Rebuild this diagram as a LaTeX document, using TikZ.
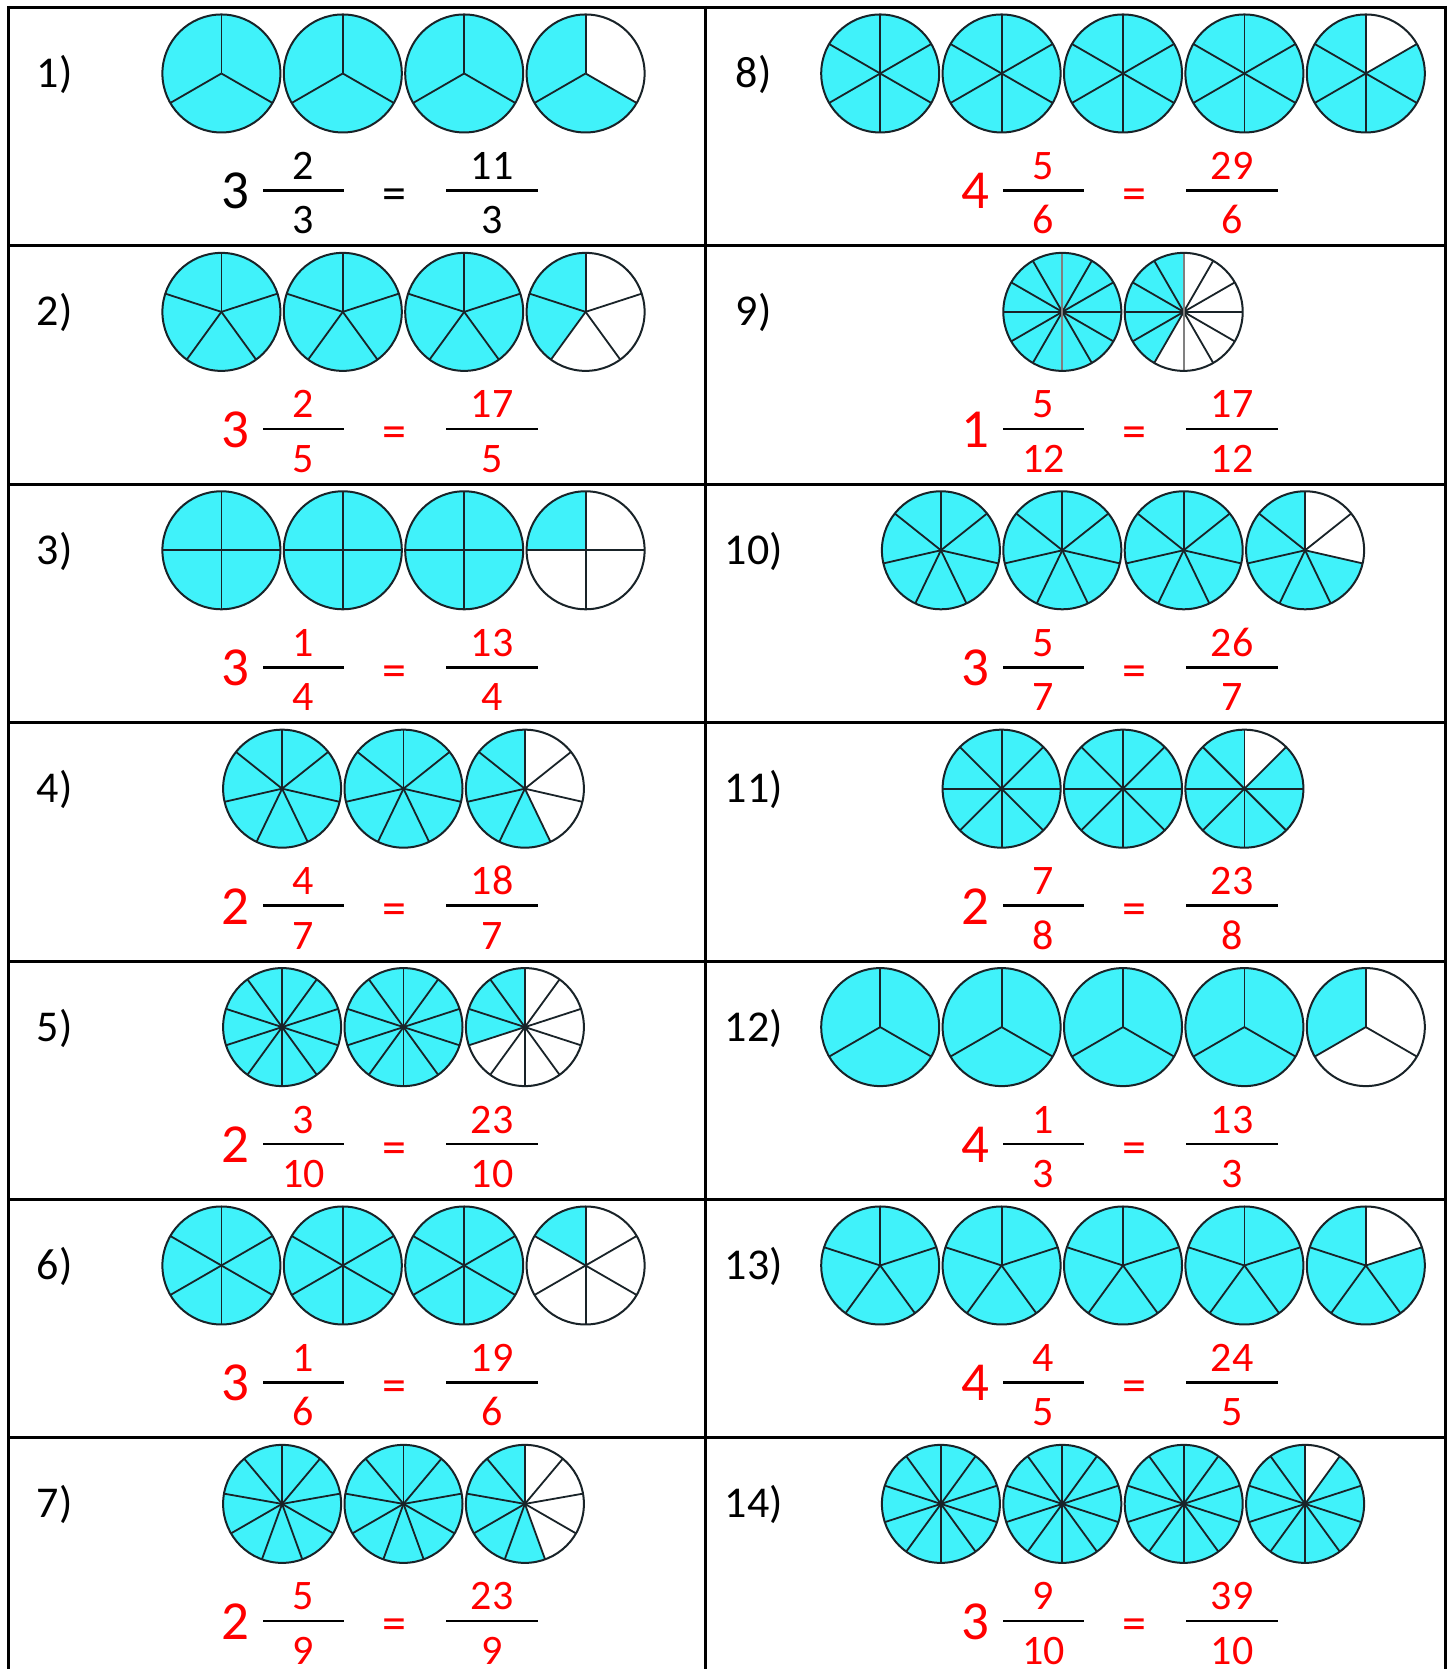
\documentclass[tikz,border=0pt]{standalone}
\usepackage{fontspec}
\setmainfont{Carlito}

\begin{document}
\begin{tikzpicture}[x=1pt, y=1pt]

% =======================================================
% Colour definitions
% =======================================================
\definecolor{piefill}{RGB}{64,242,250}   % shaded slices
\definecolor{pieline}{RGB}{25,35,40}     % rims and spokes
\definecolor{ansred}{RGB}{255,0,0}       % answers

% =======================================================
% Layout parameters
% =======================================================
\def\rad{59}          % pie radius
\def\piestep{121.4}   % distance between pie centres
\def\rowh{238.4}      % row height
\def\gridtop{1661.5}  % top edge of the table
\def\colL{8.5}
\def\colM{705.8}
\def\colR{1445.6}

% =======================================================
% Styles
% =======================================================
\tikzset{
  gridline/.style = {line width=3pt, black},
  rim/.style      = {pieline, line width=2pt},
  spoke/.style    = {pieline, line width=1.8pt},
  midspoke/.style = {gray, line width=2.2pt},
  fracbar/.style  = {black, line width=2.6pt},
  lab/.style      = {anchor=base, inner sep=1pt, font=\fontsize{44}{44}\selectfont},
  whole/.style    = {anchor=base, inner sep=1pt, font=\fontsize{55}{55}\selectfont},
  digit/.style    = {anchor=base, inner sep=1pt, font=\fontsize{42}{42}\selectfont},
  eqsign/.style   = {anchor=base, inner sep=1pt, font=\fontsize{48}{48}\selectfont},
}

\useasboundingbox (0,0) rectangle (1452,1669);

% =======================================================
% Problems: column / row / label / whole / denominator / numerator
% =======================================================
\foreach \col/\row/\lab/\w/\n/\s in {
    0/0/1/3/3/2, 0/1/2/3/5/2, 0/2/3/3/4/1, 0/3/4/2/7/4,
    0/4/5/2/10/3, 0/5/6/3/6/1, 0/6/7/2/9/5,
    1/0/8/4/6/5, 1/1/9/1/12/5, 1/2/10/3/7/5, 1/3/11/2/8/7,
    1/4/12/4/3/1, 1/5/13/4/5/4, 1/6/14/3/10/9}
{
  \pgfmathsetmacro\rowtop{\gridtop-\rowh*\row}
  \pgfmathsetmacro\cy{\rowtop-66}
  \pgfmathsetmacro\cx{403.5+719.5*\col}
  \pgfmathsetmacro\ex{740*\col}
  \pgfmathtruncatemacro\imp{\w*\n+\s}
  \ifnum\lab=1 \def\eqcol{black}\else\def\eqcol{ansred}\fi

  % pies: w full ones, then the partly shaded one
  \foreach \i in {0,...,\w} {
    \pgfmathsetmacro\px{\cx+(\i-\w/2)*\piestep}
    \ifnum\i<\w \def\sh{\n}\else\def\sh{\s}\fi
    \fill[white] (\px,\cy) circle[radius=\rad];
    \fill[piefill] (\px,\cy) -- ++(90:\rad)
      arc[start angle=90, delta angle={360*\sh/\n}, radius=\rad] -- cycle;
    \foreach \k in {1,...,\n}
      \draw[spoke] (\px,\cy) -- ++({90+360*\k/\n}:\rad);
    \ifnum\n=12
      \draw[midspoke] (\px,\cy+\rad) -- (\px,\cy-\rad);
    \fi
    \draw[rim] (\px,\cy) circle[radius=\rad];
  }

  % problem number
  \node[lab] (lab-\lab) at ({54.8+699*\col}, \rowtop-80) {\lab)};

  % mixed number
  \node[whole, text=\eqcol] (whole-\lab) at (235.5+\ex, \rowtop-201.5) {\w};
  \draw[fracbar] (263+\ex, \rowtop-183) -- ++(81,0);
  \node[digit, text=\eqcol] (num-\lab) at (303.5+\ex, \rowtop-172) {\s};
  \node[digit, text=\eqcol] (den-\lab) at (303.5+\ex, \rowtop-226.5) {\n};

  % equals sign
  \node[eqsign, text=\eqcol] (eq-\lab) at (394.5+\ex, \rowtop-202) {=};

  % improper fraction
  \draw[fracbar] (446+\ex, \rowtop-183) -- ++(92,0);
  \node[digit, text=\eqcol] (inum-\lab) at (492+\ex, \rowtop-172) {\imp};
  \node[digit, text=\eqcol] (iden-\lab) at (492+\ex, \rowtop-226.5) {\n};
}

% =======================================================
% Table rules
% =======================================================
\foreach \k in {0,...,6}
  \draw[gridline] (\colL-1.5, {\gridtop-\rowh*\k}) -- (\colR+1.5, {\gridtop-\rowh*\k});
\foreach \x in {\colL,\colM,\colR}
  \draw[gridline] (\x, \gridtop+1.5) -- (\x, 0);

\end{tikzpicture}
\end{document}
